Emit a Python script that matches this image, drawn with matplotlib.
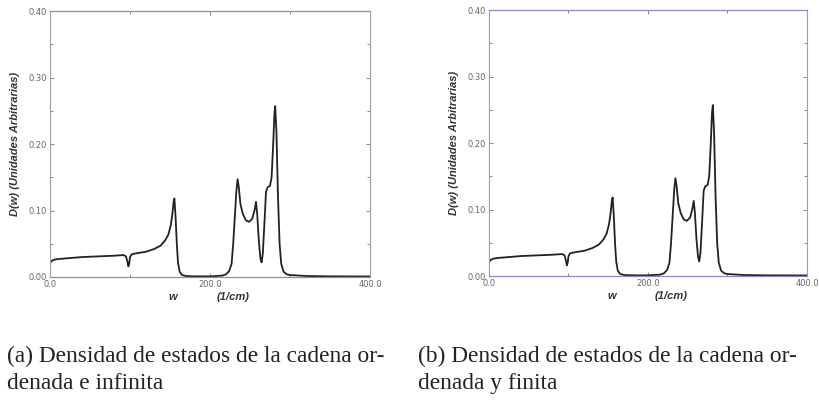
import matplotlib
matplotlib.use("Agg")
import matplotlib.pyplot as plt
from matplotlib.ticker import MultipleLocator, FormatStrFormatter

# Density of states D(w) vs w (1/cm)
w_vals = [0, 2, 5, 10, 20, 40, 60, 80, 92, 95, 97, 98, 99, 100, 102, 105, 110,
          120, 130, 138, 144, 148, 151, 153, 154.5, 155.5, 157, 158.5, 160, 162,
          165, 170, 180, 200, 215, 220, 224, 227, 229, 231, 233, 234.5, 236, 238,
          241, 245, 249, 253, 256, 257.5, 259, 261, 263, 264.5, 266, 268, 270,
          272, 275, 277, 279, 280.5, 281.5, 283, 285, 287, 289, 292, 296, 300,
          320, 350, 400]
d_infinite = [0.021, 0.024, 0.026, 0.027, 0.028, 0.030, 0.031, 0.032, 0.033,
              0.031, 0.022, 0.016, 0.020, 0.030, 0.034, 0.035, 0.036, 0.038,
              0.042, 0.047, 0.055, 0.064, 0.078, 0.095, 0.113, 0.118, 0.090,
              0.050, 0.022, 0.008, 0.003, 0.0015, 0.001, 0.001, 0.002, 0.004,
              0.009, 0.020, 0.050, 0.090, 0.130, 0.147, 0.135, 0.110, 0.095,
              0.085, 0.083, 0.088, 0.102, 0.113, 0.095, 0.055, 0.028, 0.022,
              0.035, 0.080, 0.128, 0.135, 0.137, 0.150, 0.200, 0.245, 0.257,
              0.220, 0.120, 0.050, 0.020, 0.008, 0.004, 0.003, 0.0015, 0.001,
              0.0008]
d_finite = list(d_infinite)

x_ticks = [0.0, 200.0, 400.0]
y_ticks = [0.00, 0.10, 0.20, 0.30, 0.40]
captions = ["(a) Densidad de estados de la cadena or-\ndenada e infinita",
            "(b) Densidad de estados de la cadena or-\ndenada y finita"]

W, H = 820, 411
fig = plt.figure(figsize=(W / 100, H / 100), dpi=100)

panels = [
    (50, 370, 11, 277, d_infinite),
    (489, 807, 10, 276, d_finite),
]

for (x0, x1, yt, yb, dvals) in panels:
    ax = fig.add_axes([x0 / W, 1 - yb / H, (x1 - x0) / W, (yb - yt) / H])
    ax.plot(w_vals, dvals, color="#222222", lw=1.3)
    ax.set_xlim(0, 400)
    ax.set_ylim(0, 0.40)
    ax.set_xticks(x_ticks)
    ax.set_yticks(y_ticks)
    ax.xaxis.set_major_formatter(FormatStrFormatter("%.1f"))
    ax.yaxis.set_major_formatter(FormatStrFormatter("%.2f"))
    ax.xaxis.set_minor_locator(MultipleLocator(100))
    ax.yaxis.set_minor_locator(MultipleLocator(0.05))
    ax.tick_params(which="both", direction="in", top=True, right=True,
                   labelsize=6, labelcolor="#666666", color="#777777",
                   width=0.6, pad=2)
    ax.tick_params(which="major", length=3)
    ax.tick_params(which="minor", length=2)
    for side in ("left", "right"):
        ax.spines[side].set_color("#a0a0a0")
        ax.spines[side].set_linewidth(0.8)
    for side in ("top", "bottom"):
        ax.spines[side].set_color("#8a8ac8")
        ax.spines[side].set_linewidth(0.9)
    ax.set_ylabel("D(w) (Unidades Arbitrarias)", fontsize=8, style="italic",
                  fontweight="bold", color="#333333", labelpad=6,
                  family="Liberation Sans")
    ax.text(0.385, -0.075, "w", transform=ax.transAxes, ha="center", va="center",
            fontsize=8, style="italic", fontweight="bold", color="#333333",
            family="Liberation Sans")
    ax.text(0.573, -0.075, "(1/cm)", transform=ax.transAxes, ha="center",
            va="center", fontsize=8, style="italic", fontweight="bold",
            color="#333333", family="Liberation Sans")

fig.text(7 / W, 1 - 370 / H, captions[0], ha="left", va="center",
         fontsize=16.8, family="Liberation Serif", color="#222222",
         linespacing=1.32)
fig.text(418 / W, 1 - 370 / H, captions[1], ha="left", va="center",
         fontsize=16.8, family="Liberation Serif", color="#222222",
         linespacing=1.32)

fig.savefig("out.png", dpi=100)
